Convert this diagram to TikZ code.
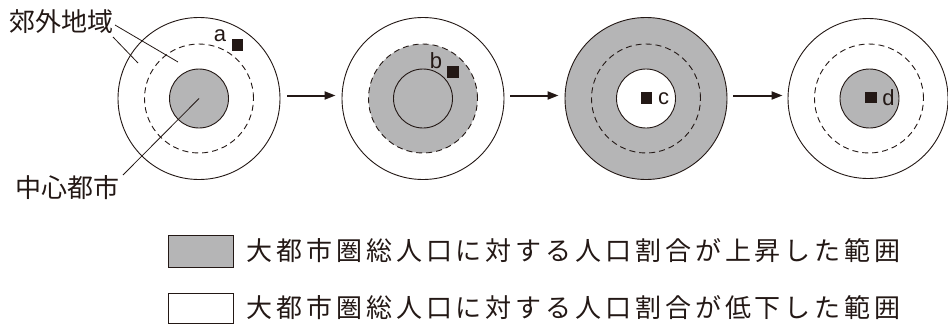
\documentclass[tikz,border=0pt]{standalone}
\usepackage{fontspec}
\setmainfont{Liberation Sans}
\newfontfamily\jp{Noto Sans CJK JP}
\newfontfamily\jpl[LetterSpace=15]{Noto Sans CJK JP}
\usetikzlibrary{arrows.meta,calc}
\definecolor{ink}{HTML}{231815}
\definecolor{fillg}{HTML}{B5B5B6}
\begin{document}
\begin{tikzpicture}[x=1pt,y=-1pt,
  ring/.style={circle,draw=ink,line width=0.9pt,inner sep=0pt,minimum size=#1},
  dring/.style={ring=#1,dash pattern=on 6pt off 4pt},
  sq/.style={fill=ink,inner sep=0pt,minimum size=11.5pt},
  lt/.style={font=\fontsize{22}{22}\selectfont,text=ink,inner sep=0pt,anchor=base},
  lab/.style={font=\fontsize{26}{26}\jp,text=ink,inner sep=0pt},
  leg/.style={font=\fontsize{26}{26}\jpl,text=ink,inner sep=0pt,anchor=west},
  lead/.style={draw=ink,line width=0.8pt},
  arr/.style={draw=ink,line width=2pt,-{Triangle[length=11pt,width=8pt]}},
  box/.style={rectangle,draw=ink,line width=1pt,minimum width=65pt,inner sep=0pt}
]
\useasboundingbox (0,0) rectangle (948,324);
% circle 1
\node[ring=162pt,fill=white] (o1) at (199,98.5) {};
\node[dring=109pt] (d1) at (199,98.5) {};
\node[ring=59pt,fill=fillg] (i1) at (199,98.5) {};
% circle 2
\node[ring=162pt,fill=white] (o2) at (423,98.5) {};
\node[dring=109pt,fill=fillg] (d2) at (423,98.5) {};
\node[ring=59pt] (i2) at (423,98.5) {};
% circle 3
\node[ring=162pt,fill=fillg] (o3) at (646,98.5) {};
\node[dring=109pt] (d3) at (646,98.5) {};
\node[ring=59pt,fill=white] (i3) at (646,98.5) {};
% circle 4
\node[ring=160pt,fill=white] (o4) at (868,98.5) {};
\node[dring=109pt] (d4) at (869,98.5) {};
\node[ring=59pt,fill=fillg] (i4) at (869.5,98.5) {};
% arrows
\draw[arr] ($(o1.east)+(7,-3)$) -- ($(o2.west)+(-6,-3)$);
\draw[arr] ($(o2.east)+(6,-3)$) -- ($(o3.west)+(-6,-3)$);
\draw[arr] ($(o3.east)+(6,-3)$) -- ($(o4.west)+(-5,-3)$);
% markers
\node[sq] (ma) at (237.5,45) {};
\node[lt] (ta) at (220,41) {a};
\node[sq] (mb) at (453,72) {};
\node[lt] (tb) at (436,68) {b};
\node[sq] (mc) at (646.5,98) {};
\node[lt] (tc) at (663.5,104.5) {c};
\node[sq] (md) at (871,97.5) {};
\node[lt] (td) at (888.5,105.5) {d};
% labels
\node[lab] (l1) at (61.5,22) {郊外地域};
\node[lab] (l2) at (67.5,188) {中心都市};
\coordinate (s1) at (115,25);
\coordinate (s2) at (113,37);
\coordinate (s3) at (123,175);
\coordinate (p1) at (178,62);
\coordinate (p2) at (138,63);
\draw[lead] (s1) -- (p1);
\draw[lead] (s2) -- (p2);
\draw[lead] (s3) -- (i1.center);
% legend
\node[box,minimum height=32pt,fill=fillg] (b1) at (200.5,251) {};
\node[box,minimum height=30pt,fill=white] (b2) at (200.5,308) {};
\node[leg] (t1) at ($(b1.east)+(13,0)$) {大都市圏総人口に対する人口割合が上昇した範囲};
\node[leg] (t2) at ($(b2.east)+(13,0)$) {大都市圏総人口に対する人口割合が低下した範囲};
\end{tikzpicture}
\end{document}
